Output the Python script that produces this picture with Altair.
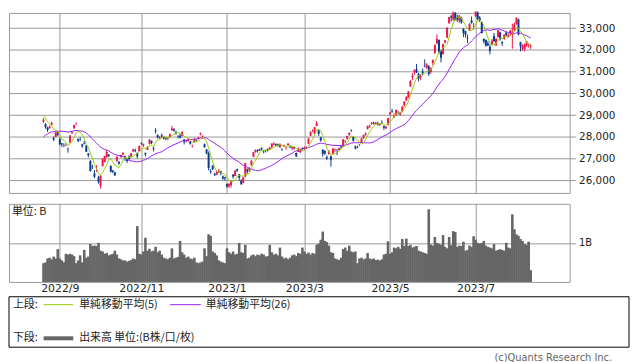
import altair as alt
import pandas as pd

# ---------------- data (Nikkei 225 daily, 2022-08-22 .. 2023-08-10) ----------------
# closes before the displayed range (only used to warm up the moving averages)
PRIOR_CLOSE = [26643, 26788, 26962, 27680, 27803, 27915, 27699, 27655, 27716, 27815,
               27802, 27993, 27595, 27742, 27932, 28176, 28249, 27999, 27819, 28547,
               28871, 28868, 29222, 28942, 28930]

OPEN = [
    28700, 28590, 28430, 28400, 28560, 27950, 28000, 28200,
    27900, 27700, 27620, 27600, 27450, 27740, 28180, 28390, 28600, 27900, 27880, 27650, 27710, 27600, 27240, 26900, 26580, 26320, 26410, 26140,
    25750, 26650, 26840, 27070, 27180, 26670, 26450, 26370, 26880, 26860, 27070, 27200, 27100, 26960, 27090, 27110, 27330, 27380, 27260, 27330,
    27700, 27620, 27260, 27400, 27680, 27820, 27480, 28300, 28080, 27960, 28070, 27980, 27940, 27910, 27990, 28300, 28350, 28210, 28040, 28060,
    28050, 27880, 27790, 27810, 27780, 27560, 27750, 27860, 27920, 28100, 28010, 27660, 27420, 27250, 26420, 26680, 26290, 26260, 26370, 26430, 26180, 26140,
    25840, 25730, 25780, 26260, 26200, 26520, 26280, 25980, 25890, 26180, 26500, 26480, 26700, 27080, 27300, 27400, 27430, 27480, 27340,
    27380, 27440, 27440, 27540, 27640, 27660, 27660, 27520, 27440, 27560, 27490, 27620, 27590, 27470, 27520, 27260, 27310, 27300, 27480,
    27480, 27470, 27680, 28050, 28300, 28150, 28500, 28300, 27970, 27400, 27350, 27070, 27200, 27110, 27220, 27400, 27390, 27400, 27560, 27560, 27770, 27900,
    28100, 28300, 28000, 27560, 27540, 27620, 27740, 27940, 28090, 28370, 28480, 28600, 28640, 28590, 28620, 28560, 28650, 28490, 28390, 28550,
    29050, 29190, 28900, 29000, 29130, 29030, 29180, 29440, 29680, 29800, 30320, 30750, 30960, 31100, 30900, 30740, 31000, 31250, 31180, 31240,
    30980, 31400, 31860, 32300, 32450, 31950, 31800, 32340, 32560, 33220, 33540, 33400, 33690, 33490, 33340, 33460, 32960, 32860, 32560, 32880, 33350, 33180,
    33550, 33720, 33480, 33280, 32500, 32450, 32300, 32140, 32240, 32630, 32200, 32580, 32800, 32350, 32500, 32800, 32600, 32740, 32700, 32900,
    33200, 33400, 32350, 32050, 32020, 32200, 32180, 32150,
]
HIGH = [
    28860, 28630, 28470, 28520, 28700, 28010, 28220, 28250,
    27950, 27720, 27700, 27700, 27510, 28080, 28260, 28550, 28660, 27930, 27990, 27680, 27810, 27620, 27250, 26920, 26710, 26470, 26700, 26210,
    26240, 27000, 27130, 27400, 27200, 26680, 26480, 26390, 27100, 26870, 27180, 27300, 27140, 27000, 27150, 27260, 27450, 27460, 27280, 27600,
    27750, 27690, 27280, 27560, 27900, 27830, 27550, 28400, 28120, 28040, 28150, 28010, 28000, 27990, 28150, 28500, 28400, 28290, 28080, 28150,
    28250, 27900, 27860, 27930, 27810, 27640, 27940, 27880, 28000, 28200, 28060, 27690, 27440, 27330, 26520, 26700, 26350, 26420, 26530, 26440, 26220, 26170,
    25840, 25880, 25990, 26290, 26470, 26540, 26290, 26050, 26160, 26810, 26550, 26600, 26920, 27310, 27420, 27430, 27450, 27520, 27400,
    27420, 27470, 27540, 27700, 27760, 27700, 27690, 27700, 27480, 27640, 27540, 27700, 27610, 27550, 27530, 27280, 27520, 27460, 27510,
    27560, 27560, 27960, 28250, 28340, 28460, 28730, 28330, 28010, 27440, 27390, 27150, 27400, 27120, 27470, 27470, 27450, 27520, 27600, 27900, 27860, 28050,
    28200, 28340, 28010, 27600, 27600, 27680, 27960, 28100, 28210, 28520, 28560, 28680, 28700, 28680, 28700, 28620, 28760, 28520, 28500, 28880,
    29140, 29280, 29080, 29250, 29190, 29150, 29430, 29640, 29860, 30100, 30600, 30930, 31090, 31350, 30950, 30860, 31140, 31560, 31390, 31300,
    31200, 31560, 32250, 32710, 32480, 32000, 32290, 32450, 33030, 33520, 33610, 33770, 33740, 33610, 33600, 33520, 33000, 32880, 32700, 33230, 33530, 33230,
    33770, 33760, 33550, 33300, 32530, 32480, 32400, 32250, 32500, 32780, 32560, 32920, 32830, 32400, 32710, 32830, 32760, 32920, 33200, 33260,
    33490, 33430, 32370, 32250, 32290, 32400, 32300, 32260,
]
LOW = [
    28640, 28380, 28220, 28380, 28530, 27800, 27990, 28030,
    27620, 27540, 27530, 27580, 27270, 27730, 28120, 28380, 28530, 27760, 27810, 27500, 27650, 27300, 27060, 26400, 26520, 26100, 26390, 25860,
    25621, 26640, 26830, 27040, 27060, 26360, 26330, 26200, 26860, 26710, 27040, 27150, 26900, 26800, 26950, 27050, 27300, 27300, 27010, 27320,
    27630, 27540, 27100, 27390, 27650, 27660, 27330, 28150, 27920, 27900, 27960, 27880, 27850, 27840, 27950, 28280, 28240, 28100, 27920, 27930,
    28010, 27650, 27730, 27780, 27640, 27510, 27740, 27790, 27880, 28070, 27920, 27500, 27200, 26460, 26300, 26490, 26210, 26240, 26360, 26230, 26020, 25990,
    25660, 25660, 25660, 26080, 26190, 26390, 25980, 25800, 25860, 26140, 26310, 26380, 26690, 27060, 27270, 27280, 27350, 27380, 27240,
    27280, 27320, 27420, 27460, 27620, 27570, 27550, 27500, 27360, 27540, 27410, 27600, 27480, 27390, 27410, 27070, 27300, 27250, 27400,
    27400, 27440, 27660, 28030, 28220, 28150, 28490, 28040, 27780, 27090, 27170, 26930, 27190, 26630, 27200, 27300, 27160, 27360, 27460, 27540, 27720, 27880,
    28030, 28230, 27790, 27420, 27480, 27580, 27720, 27900, 28050, 28330, 28410, 28560, 28570, 28560, 28520, 28500, 28590, 28320, 28350, 28530,
    28980, 29100, 28860, 28980, 29040, 28980, 29130, 29400, 29650, 29780, 30300, 30600, 30860, 30930, 30550, 30600, 30820, 31200, 31120, 30800,
    30900, 31290, 31800, 32250, 31810, 31420, 31780, 32290, 32530, 33200, 33300, 33330, 33350, 33280, 33230, 33200, 32580, 32560, 32310, 32880, 33200, 32930,
    33500, 33380, 33280, 32750, 32300, 32150, 32170, 31790, 32200, 32370, 32200, 32580, 32420, 32180, 32460, 32600, 32580, 32640, 32050, 32850,
    33150, 32670, 31930, 31960, 31930, 32130, 32100, 32030,
]
CLOSE = [
    28794, 28452, 28313, 28479, 28641, 27878, 28195, 28091,
    27661, 27650, 27619, 27626, 27430, 28065, 28214, 28542, 28614, 27818, 27875, 27567, 27688, 27313, 27153, 26431, 26571, 26173, 26422, 25937,
    26215, 26992, 27120, 27311, 27116, 26401, 26396, 26237, 27090, 26775, 27156, 27257, 27006, 26890, 26974, 27250, 27431, 27345, 27105, 27587,
    27678, 27663, 27199, 27527, 27872, 27716, 27446, 28263, 27963, 27990, 28028, 27930, 27899, 27944, 28115, 28383, 28283, 28162, 28027, 27968,
    28226, 27777, 27820, 27885, 27686, 27574, 27901, 27842, 27954, 28156, 28051, 27527, 27237, 26568, 26387, 26507, 26235, 26405, 26447, 26340, 26093, 26094,
    25716, 25820, 25973, 26175, 26446, 26449, 26119, 25822, 26138, 26791, 26405, 26553, 26906, 27299, 27395, 27362, 27382, 27433, 27327,
    27346, 27402, 27509, 27693, 27685, 27606, 27584, 27670, 27427, 27602, 27501, 27696, 27513, 27531, 27473, 27104, 27453, 27423, 27445,
    27516, 27498, 27927, 28237, 28309, 28444, 28623, 28143, 27832, 27222, 27229, 27010, 27333, 26945, 27466, 27419, 27385, 27476, 27518, 27883, 27782, 28041,
    28188, 28287, 27813, 27472, 27518, 27633, 27923, 28082, 28157, 28493, 28514, 28658, 28606, 28657, 28564, 28593, 28620, 28416, 28457, 28856,
    29123, 29157, 28949, 29242, 29122, 29126, 29388, 29626, 29842, 30093, 30573, 30808, 31086, 30957, 30682, 30801, 30916, 31233, 31328, 30887,
    31148, 31524, 32217, 32506, 31913, 31641, 32265, 32434, 33018, 33502, 33485, 33706, 33370, 33389, 33575, 33264, 32781, 32698, 32538, 33193, 33234, 33189,
    33753, 33422, 33338, 32773, 32388, 32189, 32203, 31943, 32419, 32391, 32493, 32896, 32490, 32304, 32700, 32682, 32668, 32891, 32759, 33172,
    33476, 32707, 32159, 32193, 32254, 32377, 32204, 32190,
]
# volume, in billions of shares
VOLUME = [
    0.48, 0.50, 0.60, 0.62, 0.58, 0.65, 0.60, 0.84,
    0.60, 0.55, 0.50, 0.72, 0.70, 0.72, 0.70, 0.66, 0.48, 0.55, 0.68, 0.50, 0.82, 0.62, 0.65, 0.97, 0.92, 0.93, 0.92, 1.00,
    0.80, 0.78, 0.72, 0.74, 0.68, 0.70, 0.72, 0.80, 0.70, 0.60, 0.58, 0.55, 0.55, 0.52, 0.54, 0.56, 0.60, 0.58, 1.43, 0.72,
    0.70, 0.78, 1.13, 0.80, 0.85, 0.78, 0.80, 0.90, 0.76, 0.80, 0.70, 0.62, 0.60, 0.58, 0.62, 0.86, 0.60, 0.62, 0.64, 1.05,
    0.76, 0.70, 0.62, 0.65, 0.60, 0.58, 0.62, 0.50, 0.48, 0.50, 0.52, 0.86, 0.66, 1.22, 1.18, 0.78, 0.74, 0.68, 0.55, 0.52, 0.50, 0.48,
    0.86, 0.76, 0.72, 0.78, 0.70, 0.72, 1.00, 0.76, 0.74, 0.95, 0.60, 0.62, 0.68, 0.70, 0.66, 0.70, 0.68, 0.72, 0.70,
    0.65, 0.66, 0.95, 0.76, 0.70, 0.72, 0.68, 0.88, 0.65, 0.60, 0.62, 0.58, 0.62, 0.68, 0.70, 0.66, 0.74, 0.72, 0.88,
    0.78, 0.72, 0.75, 0.70, 0.74, 0.72, 0.95, 0.98, 1.08, 1.29, 1.05, 1.02, 0.93, 0.76, 0.74, 0.60, 0.58, 0.56, 0.62, 0.84, 0.88, 0.80,
    0.93, 0.78, 0.76, 0.78, 0.48, 0.60, 0.62, 0.58, 0.60, 0.74, 0.60, 0.58, 0.60, 0.56, 0.57, 0.55, 0.58, 0.70, 0.72, 1.04,
    0.72, 0.76, 0.88, 0.86, 0.90, 0.85, 1.10, 0.92, 1.11, 0.92, 0.95, 0.88, 0.90, 0.92, 0.80, 0.78, 0.76, 0.74, 0.72, 1.86,
    0.96, 0.93, 1.15, 1.00, 0.98, 0.95, 1.20, 0.90, 0.86, 1.15, 0.94, 1.30, 1.28, 0.90, 0.93, 0.92, 1.03, 0.80, 0.82, 0.93, 0.90, 1.17,
    1.08, 1.00, 0.98, 1.00, 1.05, 0.93, 0.90, 0.88, 0.86, 0.97, 0.80, 0.82, 0.84, 0.82, 0.80, 1.00, 0.88, 0.86, 1.73, 1.35,
    1.22, 1.18, 1.10, 1.05, 0.97, 0.95, 1.03, 0.30,
]

# trading-day index of the first session of each labelled month
TICK_IDX = [8, 48, 90, 128, 170, 212]
TICK_LABELS = ["2022/9", "2022/11", "2023/1", "2023/3", "2023/5", "2023/7"]
PRICE_TICKS = [26000, 27000, 28000, 29000, 30000, 31000, 32000, 33000]
VOL_TICKS = [1]
LEGEND_TEXT = ["上段:", "単純移動平均(5)", "単純移動平均(26)", "下段:", "出来高 単位:(B株/口/枚)"]
UNIT_TEXT = "単位: B"
CREDIT = "(c)Quants Research Inc."

assert len(OPEN) == len(HIGH) == len(LOW) == len(CLOSE) == len(VOLUME), (
    len(OPEN), len(HIGH), len(LOW), len(CLOSE), len(VOLUME))

# ---------------- build frame ----------------
n = len(CLOSE)
all_close = pd.Series(PRIOR_CLOSE + CLOSE, dtype=float)
sma5 = all_close.rolling(5).mean().iloc[len(PRIOR_CLOSE):].to_numpy()
sma26 = all_close.rolling(26).mean().iloc[len(PRIOR_CLOSE):].to_numpy()

df = pd.DataFrame({
    "i": list(range(n)),
    "open": OPEN, "high": HIGH, "low": LOW, "close": CLOSE,
    "vol": VOLUME, "sma5": sma5, "sma26": sma26,
})
df["dir"] = ["up" if c >= o else "down" for o, c in zip(OPEN, CLOSE)]

# ---------------- styles ----------------
GRID = "#999999"
RED = "#ee1848"
BLUE = "#0b3a94"
GREEN = "#99cc00"
PURPLE = "#9a1ff0"
VOLC = "#666666"
NUM_FONT = "DejaVu Sans"
JP_FONT = "Noto Sans CJK JP"

W = 567
H_PRICE = 182
H_VOL = 79
H_LEG = 55   # legend panel; its box starts 4px below the panel top

x_scale = alt.Scale(domain=[-14.5, 255.7], nice=False, zero=False)
label_expr = " : ".join(f"datum.value == {i} ? '{t}'" for i, t in zip(TICK_IDX, TICK_LABELS)) + " : ''"

x_grid_only = alt.Axis(values=TICK_IDX, labels=False, ticks=False, domain=False,
                       grid=True, gridColor=GRID, gridOpacity=1, title=None)

y_price = alt.Scale(domain=[25423, 33695], nice=False, zero=False)
y_price_axis = alt.Axis(orient="right", values=PRICE_TICKS, format=",d", grid=True,
                        gridColor=GRID, gridOpacity=1, tickColor=GRID, tickSize=6,
                        labelPadding=3, domain=False, labelFont=NUM_FONT,
                        labelFontSize=10.5, labelColor="#222222", labelOverlap=False,
                        title=None)

def px(field="i"):
    return alt.X(f"{field}:Q", scale=x_scale, axis=x_grid_only)

def py(field):
    return alt.Y(f"{field}:Q", scale=y_price, axis=y_price_axis)

color_enc = alt.Color("dir:N", scale=alt.Scale(domain=["up", "down"], range=[RED, BLUE]),
                      legend=None)

base = alt.Chart(df)
wick = base.mark_rule(strokeWidth=1).encode(
    x=px(), y=py("low"), y2="high:Q", color=color_enc,
)
body = base.mark_bar(size=2).encode(
    x=px(), y=py("open"), y2="close:Q", color=color_enc,
)
line26 = base.mark_line(color=PURPLE, strokeWidth=1).encode(x=px(), y=py("sma26"))
line5 = base.mark_line(color=GREEN, strokeWidth=1).encode(x=px(), y=py("sma5"))

price = alt.layer(wick, body, line26, line5).properties(width=W, height=H_PRICE)

# ---------------- volume panel ----------------
x_vol_axis = alt.Axis(values=TICK_IDX, labelExpr=label_expr, grid=True, gridColor=GRID,
                      gridOpacity=1, ticks=False, domain=False, labelPadding=1,
                      labelFont=NUM_FONT, labelFontSize=11, labelColor="#222222",
                      labelOverlap=False, title=None)
y_vol_axis = alt.Axis(orient="right", values=VOL_TICKS, labelExpr="datum.value + 'B'",
                      grid=True, gridColor=GRID, gridOpacity=1, tickColor=GRID,
                      tickSize=6, labelPadding=3, domain=False, labelFont=NUM_FONT,
                      labelFontSize=10, labelColor="#222222", title=None)

vol_bars = base.mark_bar(size=2.6, color=VOLC).encode(
    x=alt.X("i:Q", scale=x_scale, axis=x_vol_axis),
    y=alt.Y("vol:Q", scale=alt.Scale(domain=[0, 2], nice=False), axis=y_vol_axis),
)
one = pd.DataFrame({"k": [0]})
unit_lbl = alt.Chart(one).mark_text(align="left", baseline="middle", font=JP_FONT,
                                    fontSize=11, color="#222222").encode(
    x=alt.value(3), y=alt.value(8), text=alt.value(UNIT_TEXT))
volume = alt.layer(vol_bars, unit_lbl).properties(width=W, height=H_VOL)

# ---------------- legend box ----------------
def txt(s, x, y, **kw):
    opts = dict(align="left", baseline="middle", font=JP_FONT, fontSize=11, color="#222222")
    opts.update(kw)
    return alt.Chart(one).mark_text(**opts).encode(
        x=alt.value(x), y=alt.value(y), text=alt.value(s))

def seg(x1, x2, y, color, w):
    return alt.Chart(one).mark_rule(color=color, strokeWidth=w).encode(
        x=alt.value(x1), x2=alt.value(x2), y=alt.value(y))

box = alt.Chart(one).mark_rect(fill="white", fillOpacity=0, stroke="#000000",
                               strokeWidth=1).encode(
    x=alt.value(0), x2=alt.value(627), y=alt.value(4), y2=alt.value(H_LEG))

legend = alt.layer(
    box,
    txt(LEGEND_TEXT[0], 4, 12),
    seg(35, 65, 12, GREEN, 1),
    txt(LEGEND_TEXT[1], 71, 12),
    seg(163, 194, 12, PURPLE, 1),
    txt(LEGEND_TEXT[2], 199, 12),
    txt(LEGEND_TEXT[3], 4, 46),
    seg(35, 65, 46, VOLC, 4),
    txt(LEGEND_TEXT[4], 71, 46),
    txt(CREDIT, 610, 66, align="right", font=NUM_FONT, fontSize=10, color="#666666"),
).properties(width=627, height=H_LEG,
             view=alt.ViewBackground(stroke="transparent", strokeWidth=0))

chart = alt.vconcat(price, volume, legend, spacing=11, bounds="flush").properties(
    padding=0, background="white"
).configure_view(stroke=GRID, strokeWidth=1)

chart.save("out.html", embed_options={"renderer": "svg", "actions": False})
